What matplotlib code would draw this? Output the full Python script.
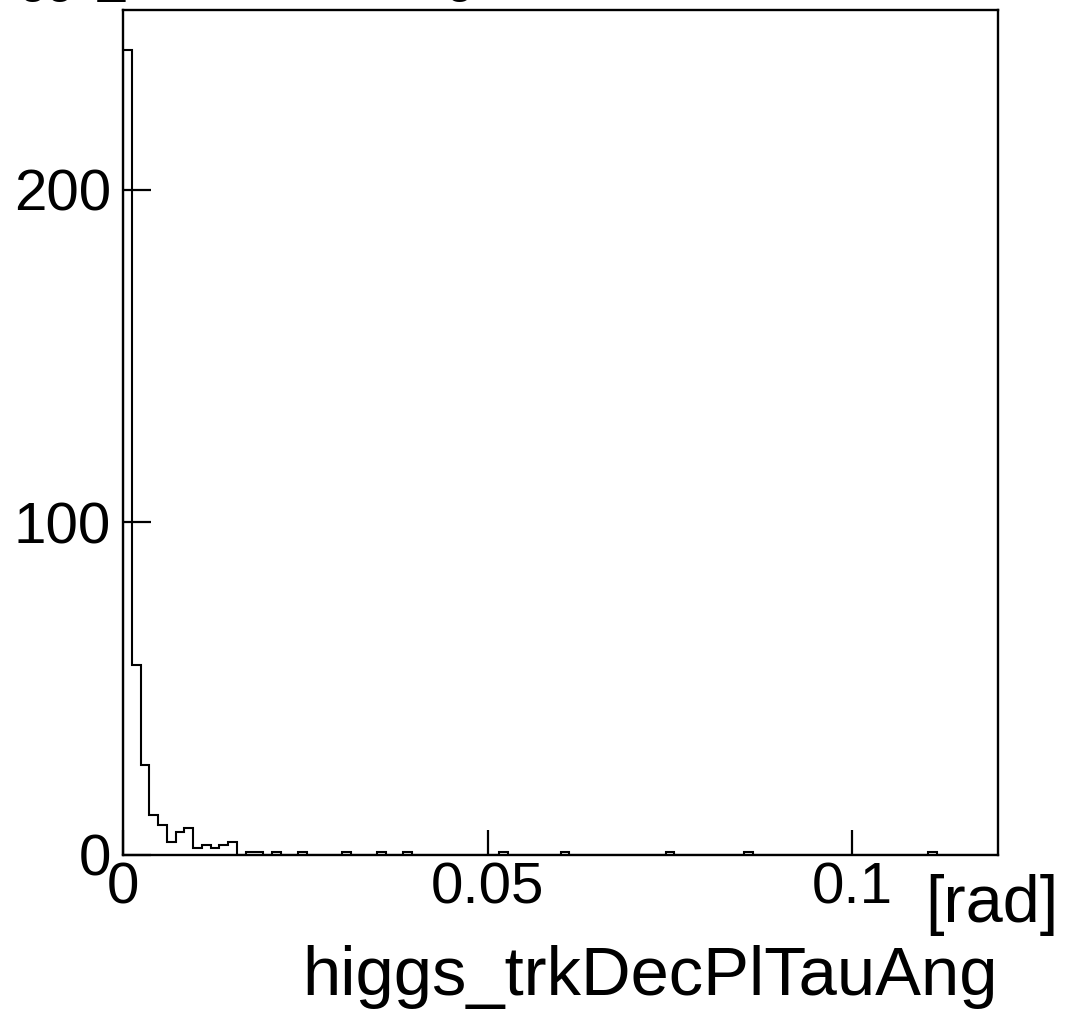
import numpy as np
import matplotlib
matplotlib.use("Agg")
import matplotlib.pyplot as plt

# histogram of higgs_trkDecPlTauAng, 100 bins over [0, 0.12]
x_min, x_max, n_bins = 0.0, 0.12, 100
counts = [242, 57, 27, 12, 9, 4, 7, 8, 2, 3,
          2, 3, 4, 0, 1, 1, 0, 1, 0, 0,
          1, 0, 0, 0, 0, 1, 0, 0, 0, 1,
          0, 0, 1, 0, 0, 0, 0, 0, 0, 0,
          0, 0, 0, 1, 0, 0, 0, 0, 0, 0,
          1, 0, 0, 0, 0, 0, 0, 0, 0, 0,
          0, 0, 1, 0, 0, 0, 0, 0, 0, 0,
          0, 1, 0, 0, 0, 0, 0, 0, 0, 0,
          0, 0, 0, 0, 0, 0, 0, 0, 0, 0,
          0, 0, 1, 0, 0, 0, 0, 0, 0, 0]
x_ticks = [0, 0.05, 0.1]
x_tick_labels = ["0", "0.05", "0.1"]
y_ticks = [0, 100, 200]
title = "higgs_trkDecPlTauAng"
x_title = "higgs_trkDecPlTauAng"
unit = "[rad]"

plt.rcParams['font.family'] = ['Liberation Sans', 'DejaVu Sans']

fig = plt.figure(figsize=(10.68, 10.10), dpi=100)
ax = fig.add_axes([123/1068, 1 - 855/1010, 875/1068, 845/1010])

edges = np.linspace(x_min, x_max, n_bins + 1)
ax.stairs(counts, edges, color='black', linewidth=1.5, baseline=0)

ax.set_xlim(x_min, x_max)
ax.set_ylim(0, max(counts) * 1.05)

ax.set_xticks(x_ticks)
ax.set_xticklabels(x_tick_labels)
ax.set_yticks(y_ticks)
ax.tick_params(axis='x', direction='in', length=18, width=1.6, labelsize=42, pad=5,
               top=False)
ax.tick_params(axis='y', direction='in', length=20, width=1.6, labelsize=42, pad=8.5,
               right=False)
ax.minorticks_off()
for sp in ax.spines.values():
    sp.set_linewidth(1.7)

fig.text(998/1068, 1 - 995/1010, x_title, ha='right', va='baseline', fontsize=49.5)
fig.text(1058/1068, 1 - 922/1010, unit, ha='right', va='baseline', fontsize=48)
# title sits mostly above the canvas, only its descenders show
fig.text(-17/1068, 1 + 8/1010, title, ha='left', va='baseline', fontsize=35)

fig.savefig("out.png", dpi=100)
